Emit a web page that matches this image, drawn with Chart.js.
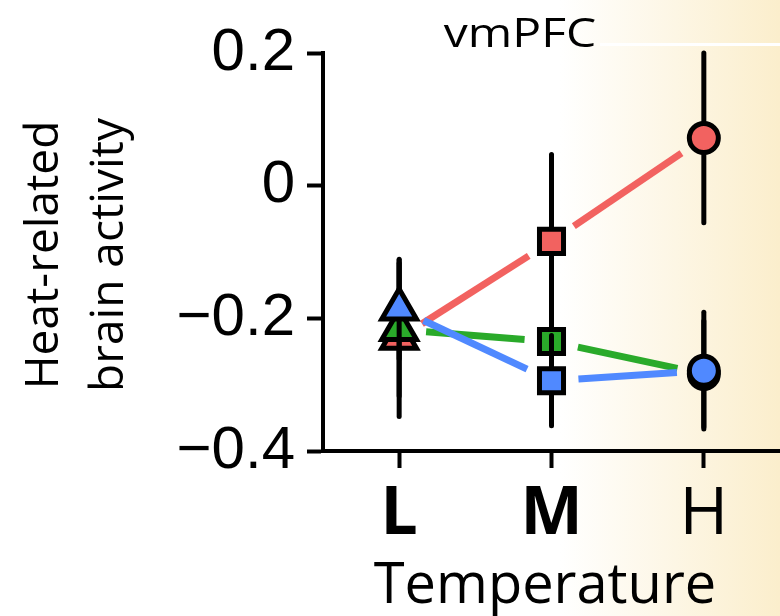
<!DOCTYPE html>
<html>
<head>
<meta charset="utf-8">
<script src="https://cdn.jsdelivr.net/npm/chart.js@4"></script>
<style>
  html, body { margin: 0; padding: 0; background: #fff; }
  #wrap { width: 780px; height: 616px; position: relative; }
</style>
</head>
<body>
<div id="wrap"><canvas id="line_chart"></canvas></div>
<script>
var categories = ['L', 'M', 'H'];
var yTicks = [-0.4, -0.2, 0, 0.2];

// group means and their error (+/-) per temperature level
var redValues = [-0.230, -0.084, 0.072];
var redErrors = [0.118, 0.131, 0.128];
var greenValues = [-0.217, -0.235, -0.284];
var greenErrors = [0.10, 0.09, 0.08];
var blueValues = [-0.186, -0.294, -0.279];
var blueErrors = [0.075, 0.068, 0.088];

var errorsByDataset = [redErrors, greenErrors, blueErrors];
var FAMILY = '"Open Sans"';

function fmtTick(v){
    var r = Math.round(v * 10) / 10;
    if (r === 0) return '0';
    return (r < 0 ? '\u2212' : '') + Math.abs(r);
}

var bgPlugin = {
    id: 'bg',
    beforeDraw: function(chart){
        var ctx = chart.ctx;
        ctx.save();
        ctx.fillStyle = '#ffffff';
        ctx.fillRect(0, 0, chart.width, chart.height);
        var g = ctx.createLinearGradient(560, 0, chart.width, 0);
        g.addColorStop(0, 'rgba(251,238,204,0)');
        g.addColorStop(1, 'rgba(251,238,204,1)');
        ctx.fillStyle = g;
        ctx.fillRect(540, 0, chart.width - 540, chart.height);
        ctx.fillStyle = '#ffffff';
        ctx.fillRect(600, 43, chart.width - 600, 3);
        ctx.restore();
    }
};

// connecting lines, cut short near each marker
var linkPlugin = {
    id: 'links',
    beforeDatasetsDraw: function(chart){
        var ctx = chart.ctx;
        var gap = 27;
        ctx.save();
        ctx.lineWidth = 7;
        ctx.lineCap = 'butt';
        chart.data.datasets.forEach(function(ds, di){
            var pts = chart.getDatasetMeta(di).data;
            ctx.strokeStyle = ds.backgroundColor;
            for (var i = 0; i < pts.length - 1; i++){
                var a = pts[i], b = pts[i + 1];
                var dx = b.x - a.x, dy = b.y - a.y;
                var len = Math.sqrt(dx * dx + dy * dy);
                var ux = dx / len, uy = dy / len;
                ctx.beginPath();
                ctx.moveTo(a.x + ux * gap, a.y + uy * gap);
                ctx.lineTo(b.x - ux * gap, b.y - uy * gap);
                ctx.stroke();
            }
        });
        ctx.restore();
    }
};

// black error bars, drawn just before each dataset's markers
var errPlugin = {
    id: 'errbars',
    beforeDatasetDraw: function(chart, args){
        var ctx = chart.ctx;
        var ys = chart.scales.y;
        var ds = chart.data.datasets[args.index];
        var errs = errorsByDataset[args.index];
        ctx.save();
        ctx.strokeStyle = '#000';
        ctx.lineWidth = 5;
        ctx.lineCap = 'round';
        args.meta.data.forEach(function(pt, i){
            var v = ds.data[i];
            ctx.beginPath();
            ctx.moveTo(pt.x, ys.getPixelForValue(v + errs[i]));
            ctx.lineTo(pt.x, ys.getPixelForValue(v - errs[i]));
            ctx.stroke();
        });
        ctx.restore();
    }
};

var textPlugin = {
    id: 'texts',
    afterDraw: function(chart){
        var ctx = chart.ctx;
        ctx.save();
        ctx.fillStyle = '#000';
        ctx.textAlign = 'center';
        ctx.textBaseline = 'alphabetic';
        // title glyphs are wider in the original, stretch a bit
        ctx.save();
        ctx.translate(520, 47);
        ctx.scale(1.2, 1);
        ctx.font = '40px ' + FAMILY;
        ctx.fillText('vmPFC', 0, 0);
        ctx.restore();
        ctx.font = '56px ' + FAMILY;
        ctx.fillText('Temperature', 545, 603);
        ctx.font = '46px ' + FAMILY;
        ctx.translate(58, 255);
        ctx.rotate(-Math.PI / 2);
        ctx.fillText('Heat-related', 0, 0);
        ctx.fillText('brain activity', 0, 65);
        ctx.restore();
    }
};

function makeSet(label, values, color, order){
    return {
        label: label,
        data: values,
        backgroundColor: color,
        borderColor: color,
        showLine: false,
        order: order,
        clip: false,
        pointStyle: ['triangle', 'rect', 'circle'],
        pointRadius: [20, 17, 14.5],
        pointHoverRadius: [20, 17, 14.5],
        pointBackgroundColor: color,
        pointBorderColor: '#000',
        pointBorderWidth: 5
    };
}

var config = {
    type: 'line',
    data: {
        labels: categories,
        datasets: [
            makeSet('red', redValues, 'rgb(242, 98, 96)', 3),
            makeSet('green', greenValues, 'rgb(42, 170, 42)', 2),
            makeSet('blue', blueValues, 'rgb(80, 137, 255)', 1)
        ]
    },
    options: {
        responsive: true,
        maintainAspectRatio: false,
        animation: false,
        layout: { autoPadding: false, padding: { top: 53, right: 0, left: 0, bottom: 0 } },
        plugins: { legend: { display: false }, tooltip: { enabled: false } },
        scales: {
            x: {
                type: 'category',
                offset: true,
                afterFit: function(s){ s.height = 165; },
                grid: { display: true, drawOnChartArea: false, drawTicks: true, tickLength: 17, tickWidth: 4, color: '#000', offset: false },
                border: { display: true, color: '#000', width: 4 },
                ticks: {
                    color: '#000',
                    padding: 8,
                    font: function(c){
                        return { family: FAMILY, size: 66, weight: c.index === 2 ? 'normal' : 'bold' };
                    }
                }
            },
            y: {
                min: yTicks[0],
                max: yTicks[yTicks.length - 1],
                afterFit: function(s){ s.width = 323; },
                afterBuildTicks: function(s){ s.ticks = yTicks.map(function(v){ return { value: v }; }); },
                grid: { display: true, drawOnChartArea: false, drawTicks: true, tickLength: 16, tickWidth: 4, color: '#000' },
                border: { display: true, color: '#000', width: 4 },
                ticks: {
                    color: '#000',
                    padding: 12,
                    font: { family: 'Liberation Sans', size: 60 },
                    callback: function(v){ return fmtTick(v); }
                }
            }
        }
    },
    plugins: [bgPlugin, linkPlugin, errPlugin, textPlugin]
};

var chart = null;
Promise.all([
    document.fonts.load('46px "Open Sans"'),
    document.fonts.load('bold 66px "Open Sans"'),
    document.fonts.load('60px "Liberation Sans"')
]).catch(function(){}).then(function(){
    chart = new Chart(document.getElementById('line_chart').getContext('2d'), config);
});
</script>
</body>
</html>
